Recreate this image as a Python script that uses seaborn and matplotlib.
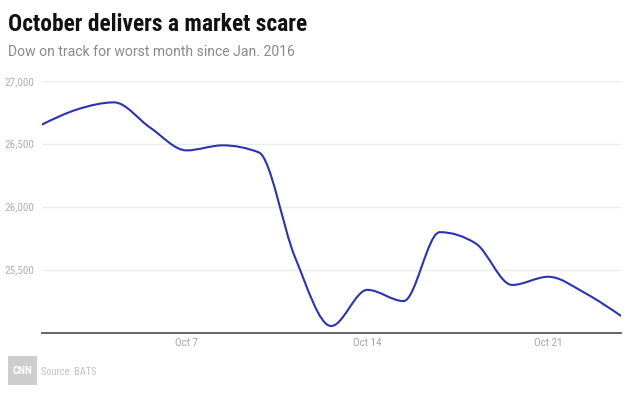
import numpy as np
import pandas as pd
import matplotlib
matplotlib.use("Agg")
import matplotlib.pyplot as plt
from matplotlib.path import Path
from matplotlib.patches import PathPatch, Rectangle
import seaborn as sns

# ---- data (Dow Jones close, Oct 2018 trading days) ----
dates = ["Oct 1", "Oct 2", "Oct 3", "Oct 4", "Oct 5", "Oct 8", "Oct 9", "Oct 10",
         "Oct 11", "Oct 12", "Oct 15", "Oct 16", "Oct 17", "Oct 18", "Oct 19",
         "Oct 22", "Oct 23"]
dow = [26651, 26774, 26828, 26627, 26447, 26487, 26431, 25599,
       25053, 25340, 25251, 25798, 25707, 25379, 25444, 25317, 25135]
tick_at = ["Oct 5", "Oct 12", "Oct 19"]
tick_labels = ["Oct 7", "Oct 14", "Oct 21"]
y_ticks = [25500, 26000, 26500, 27000]

title = "October delivers a market scare"
subtitle = "Dow on track for worst month since Jan. 2016"
source = "Source: BATS"

LINE = "#2a33b0"
COND = ["Roboto Condensed", "Roboto", "DejaVu Sans"]

sns.set_theme(style="white")
plt.rcParams["font.family"] = ["Roboto", "DejaVu Sans"]

df = pd.DataFrame({"i": np.arange(len(dates)), "date": dates, "dow": dow})

fig = plt.figure(figsize=(6.3, 4.04), dpi=100)
fig.patch.set_facecolor("white")
ax = fig.add_axes([0.0662, 0.1765, 0.9190, 0.6237])

sns.lineplot(data=df, x="i", y="dow", ax=ax, color=LINE, linewidth=1.5)

# smooth the drawn line like a monotone-X curve (Bezier rendering of the same points)
line = ax.lines[0]
xy = line.get_xydata()
line.set_visible(False)
xs, ys = xy[:, 0], xy[:, 1]
n = len(xs)
h = np.diff(xs)
s = np.diff(ys) / h
t = np.zeros(n)
for k in range(1, n - 1):
    s0, s1 = s[k - 1], s[k]
    p = (s0 * h[k] + s1 * h[k - 1]) / (h[k - 1] + h[k])
    t[k] = (np.sign(s0) + np.sign(s1)) * min(abs(s0), abs(s1), 0.5 * abs(p))
t[0] = (3 * s[0] - t[1]) / 2
t[-1] = (3 * s[-1] - t[-2]) / 2
verts = [(xs[0], ys[0])]
codes = [Path.MOVETO]
for k in range(n - 1):
    dx = h[k] / 3
    verts += [(xs[k] + dx, ys[k] + dx * t[k]),
              (xs[k + 1] - dx, ys[k + 1] - dx * t[k + 1]),
              (xs[k + 1], ys[k + 1])]
    codes += [Path.CURVE4] * 3
ax.add_patch(PathPatch(Path(verts, codes), facecolor="none", edgecolor=LINE,
                       lw=1.5, capstyle="round", joinstyle="round", zorder=3))

ax.set_xlim(0, len(dates) - 1)
ax.set_ylim(25000, 27000)
ax.set_yticks(y_ticks)
ax.set_yticklabels([f"{v:,}" for v in y_ticks], fontstretch="condensed", family=COND)
ax.set_xticks([dates.index(d) for d in tick_at])
ax.set_xticklabels(tick_labels, fontstretch="condensed", family=COND)
ax.set_xlabel("")
ax.set_ylabel("")

ax.yaxis.grid(True, color="#ebebeb", linewidth=0.9)
ax.xaxis.grid(False)
ax.set_axisbelow(True)
for side in ["top", "right", "left"]:
    ax.spines[side].set_visible(False)
ax.spines["bottom"].set_color("#5a5a5a")
ax.spines["bottom"].set_linewidth(1.3)
ax.spines["bottom"].set_zorder(4)
ax.tick_params(axis="y", length=0, pad=5.5, labelsize=8, labelcolor="#b0b0b0")
ax.tick_params(axis="x", length=0, pad=4, labelsize=8, labelcolor="#a8a8a8")

fig.text(0.0127, 0.9233, title, fontsize=16.9, fontweight="bold", fontstretch="condensed",
         color="#111111", va="baseline", ha="left", family=COND)
fig.text(0.0127, 0.8614, subtitle, fontsize=10.1, color="#8a8a8a",
         va="baseline", ha="left", family=["Roboto", "DejaVu Sans"])

fig.patches.append(Rectangle((0.0127, 0.047), 0.046, 0.0718, transform=fig.transFigure,
                             facecolor="#cdcdcd", edgecolor="none"))
fig.text(0.0127 + 0.023, 0.047 + 0.0359, "CNN", fontsize=8, fontweight="bold",
         fontstretch="condensed", family=COND,
         color="white", ha="center", va="center")
fig.text(0.065, 0.080, source, fontsize=7.5, color="#c4c4c4", ha="left", va="center",
         fontstretch="condensed", family=COND)

fig.savefig("out.png", dpi=100, facecolor="white")
